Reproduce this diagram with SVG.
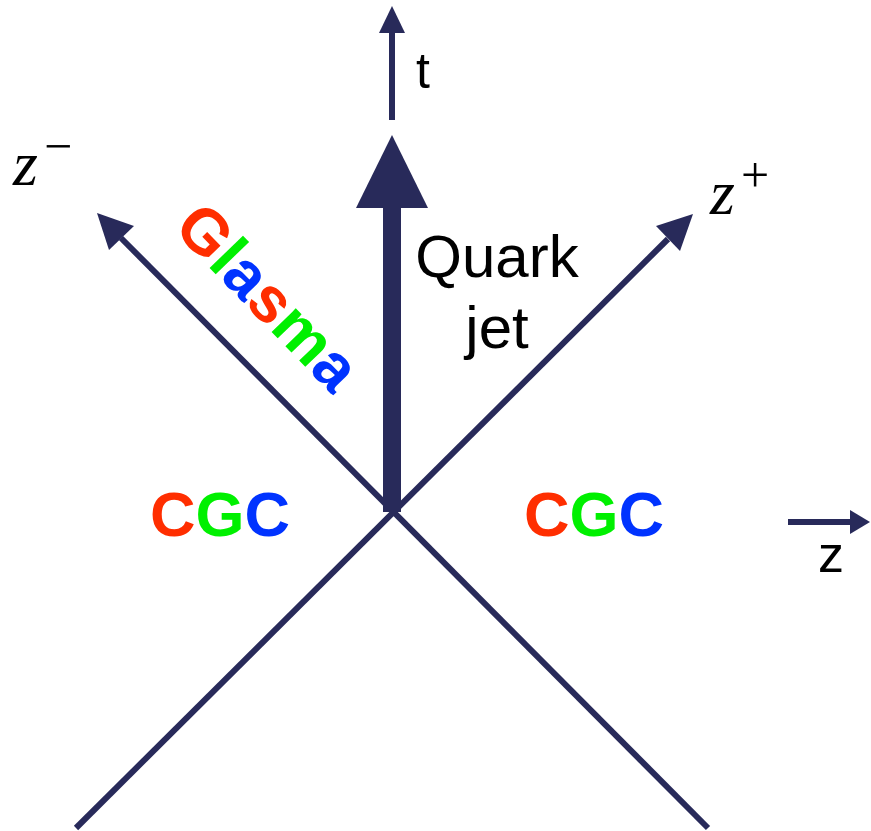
<svg xmlns="http://www.w3.org/2000/svg" width="871" height="831" viewBox="0 0 871 831">
<style>
.ax{stroke:#282a5a;stroke-width:6;fill:none}
.hd{fill:#282a5a}
.sans{font-family:"Liberation Sans",Arial,sans-serif}
.math{font-family:"Liberation Serif","Times New Roman",serif;font-style:italic}
.sym{font-family:"Liberation Serif","Times New Roman",serif}
.r{fill:#ff2e00}.g{fill:#00f000}.b{fill:#0033ff}
</style>
<rect width="871" height="831" fill="#ffffff"/>
<g id="connectors">
<line class="ax" x1="121" y1="238" x2="708" y2="828"/>
<line class="ax" x1="668" y1="239" x2="76" y2="828"/>
<polygon class="hd" points="97,213 134,226 109,250"/>
<polygon class="hd" points="693,214 680,251 656,226"/>
<rect class="hd" x="383" y="204" width="18" height="308"/>
<polygon class="hd" points="392,135 428,208 356,208"/>
<line class="ax" x1="392" y1="30" x2="392" y2="120"/>
<polygon class="hd" points="392,6 405,33 379,33"/>
<line class="ax" x1="788" y1="522" x2="852" y2="522"/>
<polygon class="hd" points="870,522 850,510 850,534"/>
</g>
<g id="label-t"><text class="sans" x="416" y="88" font-size="50">t</text></g>
<g id="label-zminus"><text class="math" x="13" y="185" font-size="64">z</text><text class="sym" x="44" y="163" font-size="50">−</text></g>
<g id="label-zplus"><text class="math" x="710" y="214" font-size="64">z</text><text class="sym" x="741" y="192" font-size="50">+</text></g>
<g id="label-quark"><text class="sans" x="497" y="277" font-size="60" text-anchor="middle">Quark</text><text class="sans" x="497" y="348" font-size="60" text-anchor="middle">jet</text></g>
<g id="label-glasma"><text class="sans" font-weight="bold" font-size="64" transform="translate(172,229) rotate(46)"><tspan class="r">G</tspan><tspan class="g">l</tspan><tspan class="b">a</tspan><tspan class="r">s</tspan><tspan class="g">m</tspan><tspan class="b">a</tspan></text></g>
<g id="cgc-left"><text class="sans" font-weight="bold" font-size="63" x="150" y="536"><tspan class="r">C</tspan><tspan class="g">G</tspan><tspan class="b">C</tspan></text></g>
<g id="cgc-right"><text class="sans" font-weight="bold" font-size="63" x="524" y="536"><tspan class="r">C</tspan><tspan class="g">G</tspan><tspan class="b">C</tspan></text></g>
<g id="label-z"><text class="sans" x="818" y="572" font-size="52">z</text></g>
</svg>
